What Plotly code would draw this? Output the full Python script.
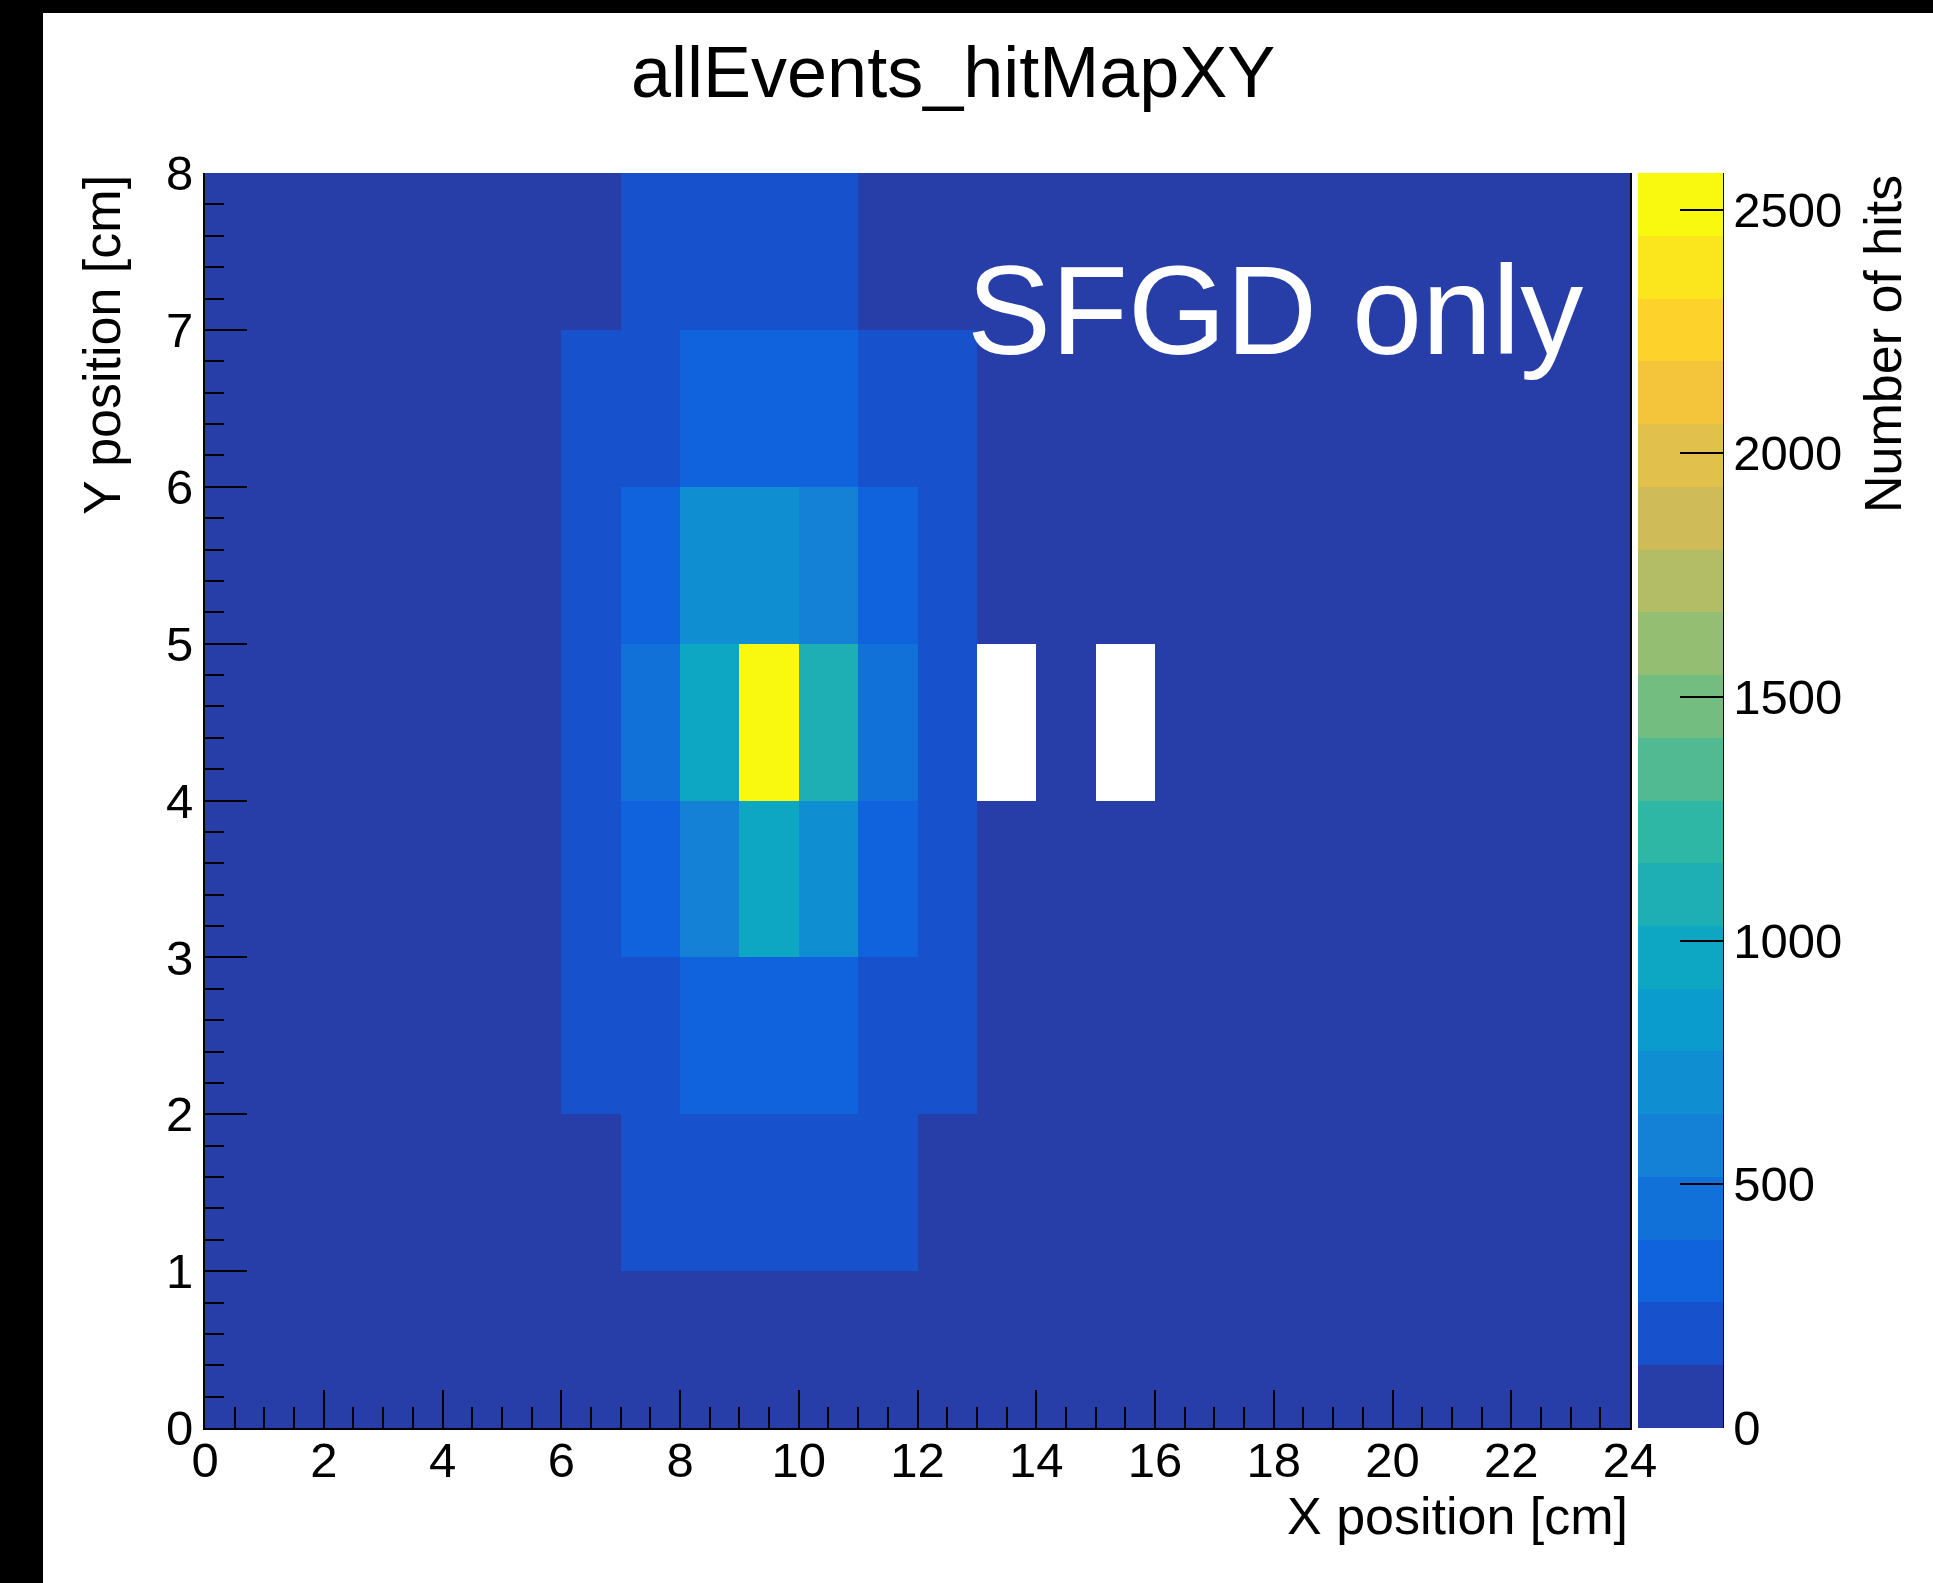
import plotly.graph_objects as go

# ---------------- data ----------------
x_edges = list(range(0, 25))          # X bins 0..24 cm
y_edges = list(range(0, 9))           # Y bins 0..8 cm
B = 20                                 # low-count background bins
# rows from y=0-1 (bottom) to y=7-8 (top); None = empty bin (drawn white)
row_y0 = [B]*24
row_y1 = [B]*7 + [190, 190, 190, 190, 190] + [B]*12
row_y2 = [B]*6 + [190, 190, 320, 320, 320, 190, 190] + [B]*11
row_y3 = [B]*6 + [190, 320, 580, 965, 710, 320, 190] + [B]*11
row_y4 = [B]*6 + [190, 450, 965, 2575, 1095, 450, 190, None, B, None] + [B]*8
row_y5 = [B]*6 + [190, 320, 710, 710, 580, 320, 190] + [B]*11
row_y6 = [B]*6 + [190, 190, 320, 320, 320, 190, 190] + [B]*11
row_y7 = [B]*7 + [190, 190, 190, 190] + [B]*13
z = [row_y0, row_y1, row_y2, row_y3, row_y4, row_y5, row_y6, row_y7]
z_max = 2575
n_contours = 20
x_tick_vals = list(range(0, 25, 2))
y_tick_vals = list(range(0, 9))
cbar_tick_vals = [0, 500, 1000, 1500, 2000, 2500]

title_text = "allEvents_hitMapXY"
label_text = "SFGD only"
x_title = "X position [cm]"
y_title = "Y position [cm]"
z_title = "Number of hits"

# ---------------- ROOT kBird palette, 20 contour bands ----------------
stops = [0.0, 0.125, 0.25, 0.375, 0.5, 0.625, 0.75, 0.875, 1.0]
red = [0.2082, 0.0592, 0.0780, 0.0232, 0.1802, 0.5301, 0.8186, 0.9956, 0.9764]
green = [0.1664, 0.3599, 0.5041, 0.6419, 0.7178, 0.7492, 0.7328, 0.7862, 0.9832]
blue = [0.5293, 0.8684, 0.8385, 0.7914, 0.6425, 0.4662, 0.3499, 0.1968, 0.0539]


def bird(f):
    for i in range(1, len(stops)):
        if f <= stops[i]:
            t = (f - stops[i-1]) / (stops[i] - stops[i-1])
            r = red[i-1] + t*(red[i]-red[i-1])
            g = green[i-1] + t*(green[i]-green[i-1])
            b = blue[i-1] + t*(blue[i]-blue[i-1])
            return "rgb(%d,%d,%d)" % (round(r*255), round(g*255), round(b*255))
    return "rgb(249,251,14)"


colorscale = []
for k in range(n_contours):
    idx = int((k + 0.99) * 255 / n_contours)
    c = bird(idx / 255)
    colorscale.append([k / n_contours, c])
    colorscale.append([(k + 1) / n_contours, c])

# ---------------- geometry (pixels) ----------------
W, H = 1933, 1583
L, R, T, Bt = 205, 1630, 173, 1428
pw, ph = R - L, Bt - T


def px(x):
    return (x - L) / pw


def py(y):
    return (Bt - y) / ph


FONT = "Liberation Sans, Arial, Helvetica, sans-serif"

fig = go.Figure(go.Heatmap(
    x=x_edges, y=y_edges, z=z, zmin=0, zmax=z_max,
    colorscale=colorscale, hoverinfo="skip",
    colorbar=dict(
        x=px(1638), xanchor="left", xpad=0,
        y=0.5, yanchor="middle", ypad=0, len=1, lenmode="fraction",
        thickness=85, thicknessmode="pixels", outlinewidth=0,
        tickvals=cbar_tick_vals, ticks="inside", ticklen=43, tickwidth=2,
        tickcolor="black", tickfont=dict(family=FONT, size=49, color="black"),
    ),
))

fig.update_layout(
    width=W, height=H, autosize=False,
    margin=dict(l=L, r=W - R, t=T, b=H - Bt, pad=0),
    paper_bgcolor="white", plot_bgcolor="white",
    font=dict(family=FONT, color="black"),
    showlegend=False,
    xaxis=dict(
        range=[0, 24], tickvals=x_tick_vals, ticks="inside", ticklen=38,
        tickwidth=2, tickcolor="black", showline=True, linecolor="black",
        linewidth=2, showgrid=False, zeroline=False, automargin=False,
        ticklabelstandoff=-12,
        tickfont=dict(family=FONT, size=49, color="black"),
        minor=dict(dtick=0.5, ticks="inside", ticklen=21, tickwidth=2,
                   tickcolor="black", showgrid=False),
        layer="above traces",
    ),
    yaxis=dict(
        range=[0, 8], tickvals=y_tick_vals, ticks="inside", ticklen=42,
        tickwidth=2, tickcolor="black", showline=True, linecolor="black",
        linewidth=2, mirror=True, showgrid=False, zeroline=False,
        automargin=False,
        tickfont=dict(family=FONT, size=49, color="black"),
        minor=dict(dtick=0.2, ticks="inside", ticklen=19, tickwidth=2,
                   tickcolor="black", showgrid=False),
        layer="above traces",
    ),
)

annotations = [
    dict(text=title_text, x=px(953), y=py(30), xanchor="center", yanchor="top",
         font=dict(family=FONT, size=72, color="black")),
    dict(text=label_text, x=px(965), y=py(238), xanchor="left", yanchor="top",
         font=dict(family=FONT, size=126, color="white")),
    dict(text=x_title, x=px(1630), y=py(1485), xanchor="right", yanchor="top",
         font=dict(family=FONT, size=52, color="black")),
    dict(text=y_title, x=px(71), y=py(173), xanchor="left", yanchor="top",
         textangle=-90, font=dict(family=FONT, size=52, color="black")),
    dict(text=z_title, x=px(1852), y=py(173), xanchor="left", yanchor="top",
         textangle=-90, font=dict(family=FONT, size=52, color="black")),
]
for a in annotations:
    a.update(xref="paper", yref="paper", showarrow=False)
fig.update_layout(annotations=annotations)

shapes = [
    # black borders of the screenshot
    dict(type="rect", x0=px(0), x1=px(43), y0=py(H), y1=py(0),
         fillcolor="black", line=dict(width=0)),
    dict(type="rect", x0=px(0), x1=px(W), y0=py(13), y1=py(0),
         fillcolor="black", line=dict(width=0)),
    # colour-axis line on right side of palette
    dict(type="line", x0=px(1723), x1=px(1723), y0=0, y1=1,
         line=dict(color="black", width=2)),
]
for s in shapes:
    s.update(xref="paper", yref="paper")
fig.update_layout(shapes=shapes)

fig.write_html("out.html")
